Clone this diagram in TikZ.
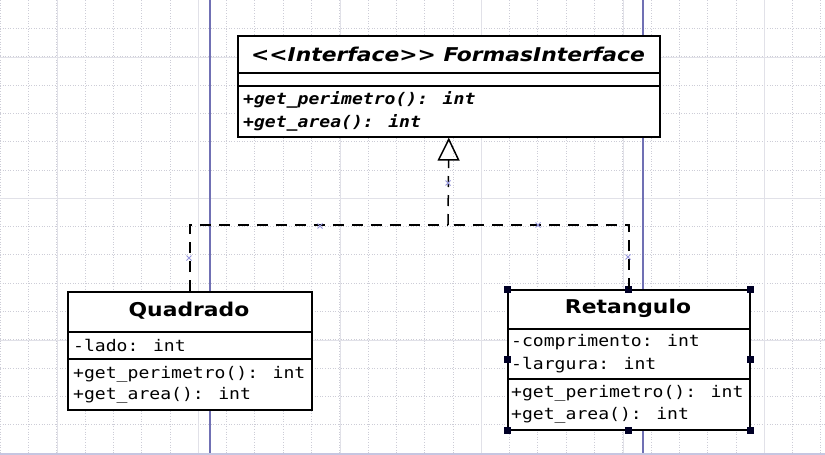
\documentclass[tikz,border=0pt]{standalone}
\usepackage{fontspec}
\newfontfamily\titlef[FakeStretch=1.15]{DejaVu Sans}
\newfontfamily\monof[FakeStretch=1.13]{DejaVu Sans Mono}
\usetikzlibrary{arrows.meta}
\definecolor{guide}{RGB}{112,112,180}
\definecolor{gridc}{RGB}{205,205,215}
\definecolor{majorc}{RGB}{225,225,232}
\definecolor{markc}{RGB}{150,150,220}
\tikzset{
  classbox/.style={draw=black, line width=1.6pt, fill=white, inner sep=0pt, anchor=north west},
  sepline/.style={draw=black, line width=1.6pt},
  titletext/.style={inner sep=0pt, font=\titlef\bfseries\fontsize{19}{19}\selectfont},
  ititletext/.style={inner sep=0pt, font=\titlef\bfseries\itshape\fontsize{19}{19}\selectfont},
  membertext/.style={inner sep=0pt, anchor=west, font=\monof\fontsize{16}{16}\selectfont},
  imembertext/.style={inner sep=0pt, anchor=west, font=\monof\bfseries\itshape\fontsize{16}{16}\selectfont},
  realize/.style={draw=black, line width=1.5pt, dash pattern=on 11pt off 8pt},
  handle/.style={fill=black!85!blue},
  markx/.style={draw=markc, line width=0.8pt},
}
\begin{document}
\begin{tikzpicture}[x=1pt,y=-1pt]
\useasboundingbox (0,0) rectangle (825,455);
\fill[white] (0,0) rectangle (825,455);
% grid
\foreach \i in {0,...,29} \draw[gridc, line width=0.6pt, dotted] (\i*28.3,0) -- (\i*28.3,455);
\foreach \j in {1,...,16} \draw[gridc, line width=0.6pt, dotted] (0,\j*28.3) -- (825,\j*28.3);
\foreach \i in {57,198.5,340,481.5,623,764.5} \draw[majorc, line width=0.8pt] (\i,0) -- (\i,455);
\foreach \j in {57,198.5,340} \draw[majorc, line width=0.8pt] (0,\j) -- (825,\j);
% guide lines
\draw[guide, line width=1.2pt] (210,0) -- (210,455);
\draw[guide, line width=1.2pt] (643,0) -- (643,455);
\draw[guide!40, line width=1.5pt] (0,454) -- (825,454);

% interface
\node[classbox, minimum width=422pt, minimum height=101pt] (I) at (237,35) {};
\draw[sepline] (237,73) -- (659,73);
\draw[sepline] (237,86) -- (659,86);
\node[ititletext] (It) at (448,54) {<<Interface>> FormasInterface};
\node[imembertext] (I1) at (243,100) {+get\_perimetro(): int};
\node[imembertext] (I2) at (243,123) {+get\_area(): int};

% Quadrado
\node[classbox, minimum width=244pt, minimum height=118pt] (Q) at (67,291) {};
\draw[sepline] (67,332) -- (311,332);
\draw[sepline] (67,359) -- (311,359);
\node[titletext] (Qt) at (189,311) {Quadrado};
\node[membertext] (Q1) at (73,345) {-lado: int};
\node[membertext] (Q2) at (73,374) {+get\_perimetro(): int};
\node[membertext] (Q3) at (73,395) {+get\_area(): int};

% Retangulo
\node[classbox, minimum width=242pt, minimum height=140pt] (R) at (507,289) {};
\draw[sepline] (507,329) -- (749,329);
\draw[sepline] (507,379) -- (749,379);
\node[titletext] (Rt) at (628,308) {Retangulo};
\node[membertext] (R1) at (511,342) {-comprimento: int};
\node[membertext] (R2) at (511,365) {-largura: int};
\node[membertext] (R3) at (511,393) {+get\_perimetro(): int};
\node[membertext] (R4) at (511,415) {+get\_area(): int};
\foreach \a in {north west,north,north east,west,east,south west,south,south east}
  \fill[handle] ([shift={(-3.5,-3.5)}]R.\a) rectangle ++(7,7);

% realization connectors
\coordinate (J) at (448,225);
\draw[realize] (Q.north) |- (J);
\draw[realize] (R.north) |- (J);
\draw[realize, -{Triangle[open, length=23pt, width=22pt, line width=1.5pt]}] (J) -- (I.south);

% waypoint marks
\foreach \p in {(448,183),(320,226),(538,225),(189,258),(628,257)}
  \draw[markx] \p ++(-2.5,-2.5) -- ++(5,5) \p ++(-2.5,2.5) -- ++(5,-5);
\end{tikzpicture}
\end{document}
